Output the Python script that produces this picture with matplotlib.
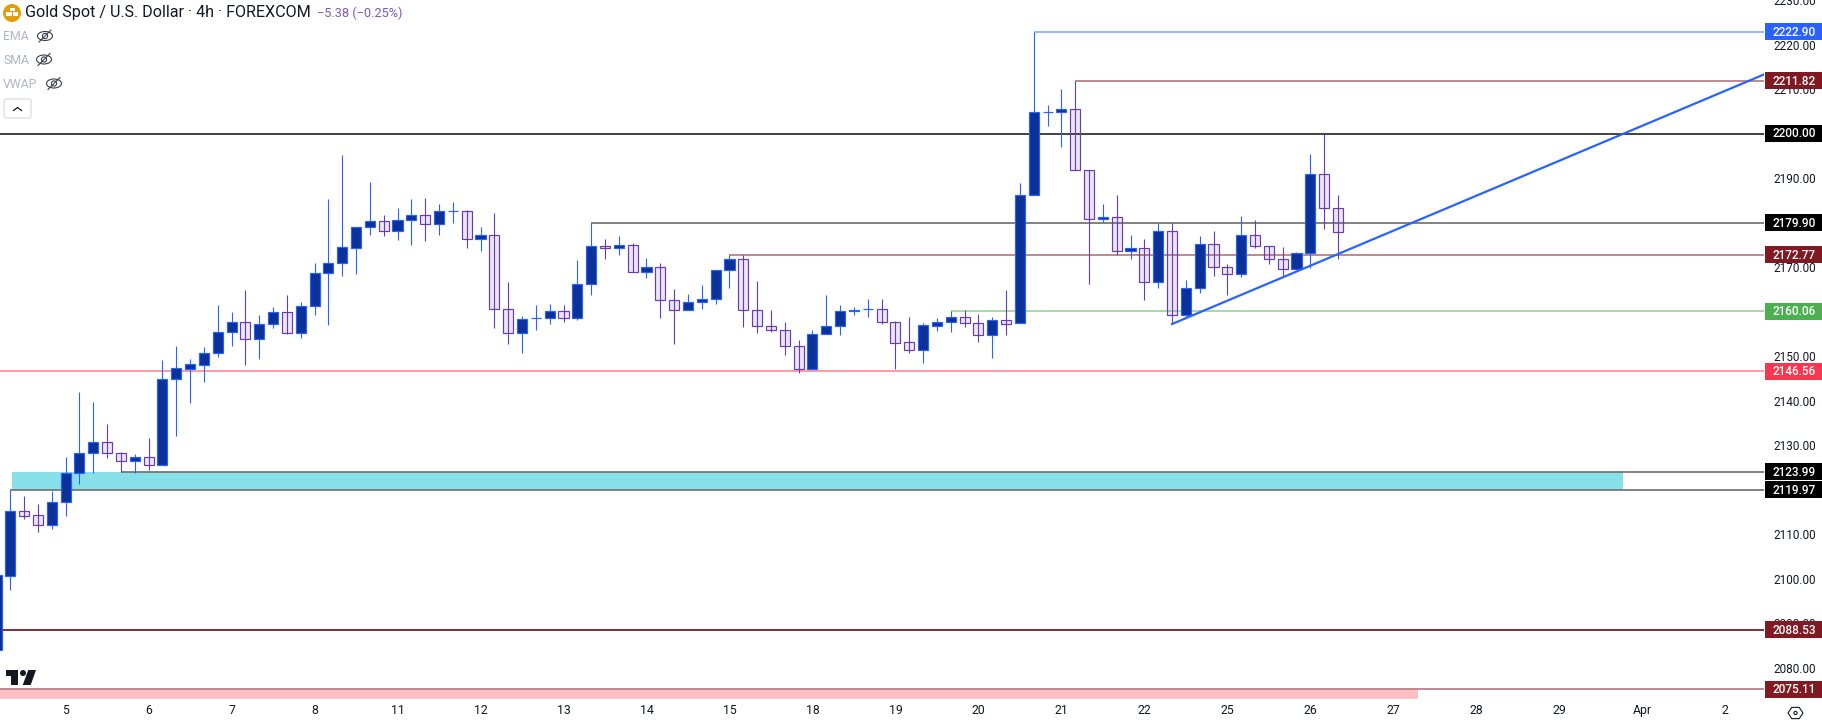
import numpy as np
import matplotlib
matplotlib.use("Agg")
import matplotlib.pyplot as plt
from matplotlib.patches import Rectangle, Circle, Ellipse, Polygon, FancyBboxPatch

# gia 4h, doc tu hinh
opens = [2084.0, 2100.6, 2115.2, 2114.3, 2112.1, 2117.2, 2123.7, 2128.2, 2130.7, 2128.2,
         2126.4, 2127.3, 2125.5, 2144.8, 2147.1, 2147.9, 2150.6, 2155.4, 2157.6, 2153.8,
         2157.2, 2159.8, 2155.1, 2161.2, 2168.6, 2170.8, 2174.2, 2178.9, 2180.3, 2178.0,
         2180.5, 2181.8, 2179.6, 2182.5, 2182.7, 2176.2, 2177.1, 2160.5, 2155.1, 2158.5,
         2158.5, 2160.1, 2158.5, 2166.1, 2174.7, 2174.2, 2174.9, 2168.8, 2169.9, 2162.5,
         2160.3, 2162.1, 2162.8, 2169.3, 2171.7, 2160.3, 2156.7, 2155.8, 2152.2, 2147.1,
         2154.9, 2156.7, 2160.1, 2160.5, 2160.5, 2157.6, 2153.1, 2151.3, 2156.7, 2157.6,
         2158.7, 2157.4, 2154.7, 2158.1, 2157.4, 2186.3, 2204.9, 2204.9, 2205.4, 2191.9,
         2180.7, 2181.2, 2173.5, 2174.2, 2166.6, 2178.0, 2159.2, 2165.4, 2175.1, 2169.9,
         2168.4, 2177.1, 2174.7, 2171.7, 2169.5, 2173.1, 2190.8, 2183.2]
highs = [2100.8, 2119.9, 2118.6, 2116.8, 2119.7, 2127.3, 2141.9, 2139.7, 2134.7, 2128.4,
         2128.0, 2131.6, 2149.1, 2152.2, 2149.3, 2152.0, 2161.4, 2159.8, 2164.8, 2159.2,
         2161.0, 2163.7, 2162.1, 2171.0, 2185.4, 2195.1, 2179.1, 2189.0, 2181.6, 2183.2,
         2185.2, 2185.6, 2184.1, 2184.7, 2182.9, 2179.1, 2182.1, 2166.6, 2158.9, 2161.4,
         2161.6, 2161.4, 2171.5, 2179.8, 2176.4, 2176.9, 2175.5, 2172.0, 2170.8, 2165.0,
         2163.9, 2165.9, 2169.3, 2172.6, 2172.6, 2166.8, 2160.3, 2157.6, 2153.6, 2155.8,
         2163.7, 2161.4, 2161.0, 2162.8, 2162.8, 2157.8, 2158.7, 2157.4, 2158.5, 2160.1,
         2160.3, 2159.4, 2158.7, 2164.8, 2188.8, 2222.9, 2206.3, 2210.1, 2211.8, 2191.9,
         2184.1, 2186.1, 2177.1, 2176.2, 2180.0, 2179.8, 2167.2, 2176.9, 2178.2, 2170.6,
         2181.4, 2180.5, 2174.7, 2174.4, 2173.3, 2195.3, 2200.0, 2186.3]
lows = [2084.0, 2097.5, 2113.4, 2110.5, 2111.2, 2114.1, 2121.3, 2123.7, 2127.1, 2123.9,
        2123.7, 2124.4, 2125.5, 2132.0, 2139.4, 2144.1, 2149.7, 2152.2, 2147.9, 2149.3,
        2156.3, 2154.9, 2154.0, 2159.2, 2156.9, 2167.9, 2168.4, 2177.1, 2176.9, 2176.0,
        2174.9, 2175.8, 2177.1, 2180.0, 2174.2, 2173.7, 2156.3, 2152.7, 2150.6, 2155.8,
        2157.2, 2157.6, 2158.1, 2163.7, 2171.7, 2172.6, 2168.8, 2167.5, 2158.5, 2152.7,
        2160.3, 2160.5, 2161.6, 2165.2, 2156.5, 2155.1, 2155.4, 2150.2, 2146.2, 2147.1,
        2154.9, 2154.7, 2159.2, 2158.7, 2157.2, 2147.1, 2150.6, 2148.4, 2155.6, 2155.4,
        2156.5, 2153.1, 2149.5, 2154.7, 2157.4, 2186.3, 2201.8, 2196.9, 2191.9, 2166.3,
        2180.2, 2172.6, 2171.9, 2162.5, 2165.2, 2157.2, 2158.7, 2164.1, 2167.9, 2163.7,
        2167.7, 2174.2, 2170.6, 2167.7, 2169.3, 2169.7, 2178.5, 2171.7]
closes = [2100.8, 2115.2, 2114.1, 2112.1, 2117.2, 2123.7, 2128.2, 2130.7, 2128.2, 2126.4,
          2127.3, 2125.5, 2144.8, 2147.3, 2148.2, 2150.6, 2155.4, 2157.6, 2153.8, 2157.2,
          2159.8, 2155.1, 2161.2, 2168.6, 2170.8, 2174.4, 2179.1, 2180.3, 2178.0, 2180.5,
          2181.8, 2179.6, 2182.5, 2182.6, 2176.2, 2177.1, 2160.5, 2155.1, 2158.3, 2158.5,
          2160.1, 2158.5, 2166.1, 2174.7, 2174.2, 2174.9, 2168.8, 2169.9, 2162.5, 2160.3,
          2162.1, 2162.8, 2169.3, 2171.7, 2160.3, 2156.7, 2155.8, 2152.2, 2147.1, 2154.9,
          2156.7, 2160.1, 2160.3, 2160.5, 2157.6, 2152.9, 2151.3, 2156.9, 2157.6, 2158.7,
          2157.4, 2154.7, 2158.1, 2157.2, 2186.3, 2204.9, 2204.9, 2205.4, 2191.9, 2180.9,
          2181.2, 2173.5, 2174.2, 2166.6, 2178.0, 2159.2, 2165.4, 2175.1, 2170.0, 2168.4,
          2177.1, 2174.7, 2171.7, 2169.5, 2173.1, 2190.8, 2183.2, 2177.8]

# cac muc gia ngang
ray_prices = [2222.90, 2211.82, 2200.00, 2179.90, 2172.77, 2160.06, 2146.56, 2123.99, 2119.97, 2088.53, 2075.11]
ray_labels = ["2222.90", "2211.82", "2200.00", "2179.90", "2172.77", "2160.06", "2146.56", "2123.99", "2119.97", "2088.53", "2075.11"]
ray_starts = [75, 78, -1, 43, 53, 69, -1, 9, 1, -1, -1]
ray_colors = ["#8FAEFF", "#BC7F85", "#333333", "#777777", "#BC7F85", "#A2D6A5", "#FF929C", "#777777", "#777777", "#801922", "#BC7F85"]
box_colors = ["#2962FF", "#801922", "#000000", "#000000", "#801922", "#4CAF50", "#F7374F", "#000000", "#000000", "#801922", "#801922"]

price_ticks = [2080, 2090, 2100, 2110, 2120, 2130, 2140, 2150, 2160, 2170, 2180, 2190, 2200, 2210, 2220, 2230]
day_labels = ["5", "6", "7", "8", "11", "12", "13", "14", "15", "18", "19", "20", "21", "22", "25", "26", "27", "28", "29", "Apr", "2"]

UP_EDGE = "#2962FF"
UP_FILL = "#0C3299"
DOWN_EDGE = "#673AB7"
DOWN_FILL = (0.404, 0.227, 0.718, 0.13)
FONT = "Roboto"

plt.rcParams["font.family"] = [FONT, "DejaVu Sans"]

fig = plt.figure(figsize=(18.22, 7.24), dpi=100)
ax = fig.add_axes([0, 25 / 724, 1764 / 1822, 699 / 724])

idx = np.arange(len(opens))
opens_a = np.array(opens)
closes_a = np.array(closes)
up = closes_a >= opens_a
edge = np.where(up, UP_EDGE, DOWN_EDGE)

# vung xanh va vung hong
ax.add_patch(Rectangle((1.12, ray_prices[8]), 116.5, ray_prices[7] - ray_prices[8],
                       facecolor="#87DFEA", edgecolor="none", zorder=1))
ax.add_patch(Rectangle((-1, 2060), 103.8, ray_prices[10] - 2060,
                       facecolor="#FFBFC4", edgecolor="none", zorder=1))

# duong ngang
for price, start, col in zip(ray_prices, ray_starts, ray_colors):
    ax.plot([start, 140], [price, price], color=col, lw=1.3, zorder=2, solid_capstyle="butt")

# nen
ax.vlines(idx, lows, highs, colors=list(edge), lw=0.8, zorder=3)
ax.bar(idx[up], closes_a[up] - opens_a[up], bottom=opens_a[up], width=0.73,
       facecolor=UP_FILL, edgecolor=UP_EDGE, linewidth=0.85, zorder=4)
ax.bar(idx[~up], closes_a[~up] - opens_a[~up], bottom=opens_a[~up], width=0.73,
       facecolor=DOWN_FILL, edgecolor=DOWN_EDGE, linewidth=0.85, zorder=4)

# trendline
ax.plot([85, 127.9], [2157.2, 2213.4], color="#2962FF", lw=1.6, zorder=5)

ax.set_xlim(3.53 / 13.83, (1764 + 3.53) / 13.83)
ax.set_ylim(2072.95, 2229.75)
for s in ax.spines.values():
    s.set_visible(False)

ax.set_xticks(5 + 6 * np.arange(len(day_labels)))
ax.set_xticklabels(day_labels, fontsize=8.8, color="#131722")
ax.yaxis.tick_right()
ax.set_yticks(price_ticks)
ax.set_yticklabels(["%.2f" % p for p in price_ticks], fontsize=8.5, color="#131722")
ax.tick_params(axis="x", length=0, pad=3.6)
ax.tick_params(axis="y", length=0, pad=6.5)

# o nhan gia ben phai
for price, label, col in zip(ray_prices, ray_labels, box_colors):
    h = 17 * 0.22432
    ax.add_patch(Rectangle((1.0005, price - h / 2), 57 / 1764, h, transform=ax.get_yaxis_transform(),
                           facecolor=col, edgecolor="none", clip_on=False, zorder=6))
    ax.text(1794 / 1764, price - 0.1, label, transform=ax.get_yaxis_transform(), color="white",
            fontsize=8.5, fontweight="medium", ha="center", va="center", clip_on=False, zorder=7)

# lop phu theo pixel: tieu de, icon
top = fig.add_axes([0, 0, 1, 1], facecolor="none")
top.set_xlim(0, 1822)
top.set_ylim(724, 0)
top.axis("off")

top.add_patch(Circle((12, 13), 9, facecolor="#DE9F0C", edgecolor="none"))
top.add_patch(Rectangle((9.5, 7.5), 5, 3.5, facecolor="white", edgecolor="none"))
top.add_patch(Rectangle((6, 12), 5.5, 4, facecolor="white", edgecolor="none"))
top.add_patch(Rectangle((12.5, 12), 5.5, 4, facecolor="white", edgecolor="none"))

top.text(25, 13, "Gold Spot / U.S. Dollar · 4h · FOREXCOM", fontsize=11.6, color="#131722", ha="left", va="center")
top.text(317, 13, "\u22125.38 (\u22120.25%)", fontsize=9.2, color="#7E57C2", ha="left", va="center")

for name, y, ex in [("EMA", 37, 45), ("SMA", 60.5, 44), ("VWAP", 84.5, 54)]:
    top.text(3, y, name, fontsize=8.8, color="#B2B5BE", ha="left", va="center")
    top.add_patch(Ellipse((ex, y - 1), 15, 9, fill=False, edgecolor="#3A3E4A", lw=0.8))
    top.add_patch(Circle((ex, y - 1), 2.6, fill=False, edgecolor="#3A3E4A", lw=0.8))
    top.plot([ex - 6, ex + 6], [y + 5, y - 7], color="#3A3E4A", lw=0.8)

top.add_patch(FancyBboxPatch((4, 99), 27, 19, boxstyle="round,pad=0,rounding_size=2",
                             facecolor="white", edgecolor="#D6D8DE", lw=0.8))
top.plot([13.5, 17.5, 21.5], [110.5, 107.5, 110.5], color="#131722", lw=0.9)

# logo TV
top.add_patch(Polygon([(6, 670), (18, 670), (18, 685), (11, 685), (11, 676), (6, 676)], facecolor="#131722", edgecolor="none"))
top.add_patch(Circle((23, 673), 3, facecolor="#131722", edgecolor="none"))
top.add_patch(Polygon([(28.3, 670), (36, 670), (30.7, 685), (22.7, 685)], facecolor="#131722", edgecolor="none"))

# icon luc giac goc duoi phai
ang = np.deg2rad(np.arange(0, 360, 60))
top.add_patch(Polygon(np.column_stack([1795.5 + 7.5 * np.cos(ang), 713 + 6.5 * np.sin(ang)]), closed=True, fill=False,
                      edgecolor="#131722", lw=0.8))
top.add_patch(Circle((1795.5, 713), 1.6, fill=False, edgecolor="#131722", lw=0.8))

fig.savefig("out.png", dpi=100, facecolor="white")
